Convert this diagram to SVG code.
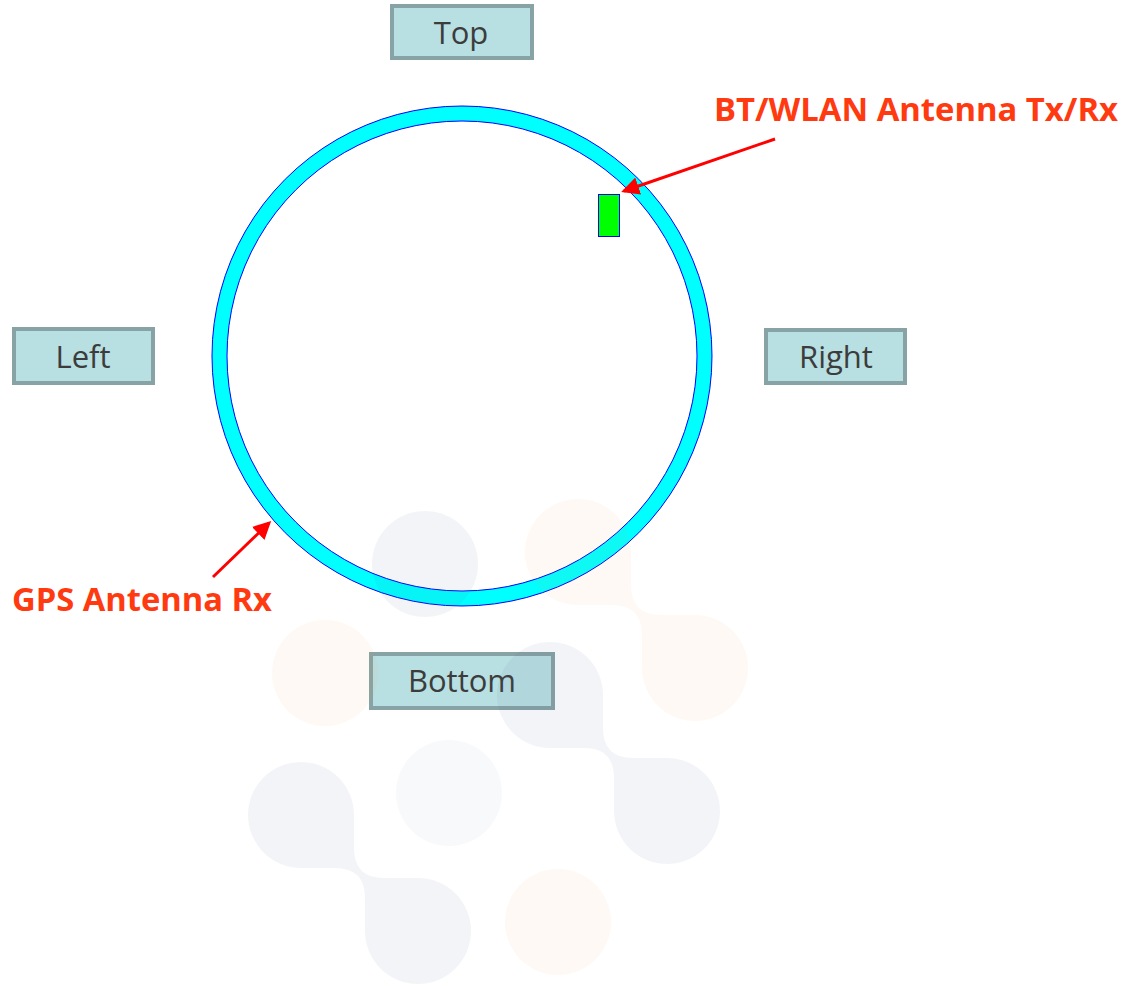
<svg xmlns="http://www.w3.org/2000/svg" width="1131" height="984" viewBox="0 0 1131 984">
<style>
.box rect{fill:#b8dfe2;stroke:#87a3a5;stroke-width:4}
.box text{font-family:"Open Sans","Noto Sans",sans-serif;font-size:31px;fill:#3c3c3c;text-anchor:middle}
.lbl{font-family:"Open Sans","Noto Sans","Liberation Sans",sans-serif;font-weight:bold;font-size:33px;fill:#ff3a10}
.arr{stroke:#ff0000;stroke-width:3;fill:none;marker-end:url(#ah)}
.wg{fill:rgb(100,110,150);opacity:0.075}
.wp{fill:rgb(245,160,70);opacity:0.06}
</style>
<defs>
<marker id="ah" markerWidth="6" markerHeight="6" refX="5" refY="3" orient="auto" markerUnits="strokeWidth">
<path d="M0,0 L6,3 L0,6 Z" fill="#ff0000"/>
</marker>
<path id="blob" d="M631,552 L631,585 Q631,615 661,615 L695,615 A53,53 0 1 1 642,668 L642,635 Q642,605 612,605 L578,605 A53,53 0 1 1 631,552 Z"/>
</defs>
<rect width="1131" height="984" fill="#ffffff"/>
<g id="ring">
<path d="M462,106 A250,250 0 1 1 461.99,106 Z M462,121 A235,235 0 1 0 462.01,121 Z" fill="#00ffff" fill-rule="evenodd" stroke="#0000ff" stroke-width="1"/>
</g>
<g id="bt-antenna">
<rect x="598.5" y="194.5" width="21" height="42" fill="#00ff00" stroke="#0000ff" stroke-width="1"/>
</g>
<g id="top" class="box"><rect x="392" y="6" width="140" height="52"/><text x="461" y="44">Top</text></g>
<g id="left" class="box"><rect x="14" y="329" width="139" height="54"/><text x="83" y="368">Left</text></g>
<g id="right" class="box"><rect x="766" y="330" width="139" height="53"/><text x="836" y="368">Right</text></g>
<g id="bottom" class="box"><rect x="371" y="654" width="182" height="54"/><text x="462" y="692">Bottom</text></g>
<g id="connectors">
<line class="arr" x1="775" y1="139" x2="624" y2="191"/>
<line class="arr" x1="213" y1="577" x2="269" y2="523"/>
</g>
<g id="bt-label"><text class="lbl" x="714" y="121" textLength="404" lengthAdjust="spacingAndGlyphs">BT/WLAN Antenna Tx/Rx</text></g>
<g id="gps-label"><text class="lbl" x="12" y="611" textLength="260" lengthAdjust="spacingAndGlyphs">GPS Antenna Rx</text></g>
<g id="watermark">
<circle class="wg" cx="425" cy="564" r="53"/>
<use href="#blob" class="wp"/>
<use href="#blob" class="wg" transform="translate(-28,143)"/>
<use href="#blob" class="wg" transform="translate(-277,263)"/>
<circle class="wg" cx="449" cy="793" r="53" style="opacity:0.045"/>
<circle class="wp" cx="325" cy="673" r="53"/>
<circle class="wp" cx="558" cy="922" r="53"/>
</g>
</svg>
